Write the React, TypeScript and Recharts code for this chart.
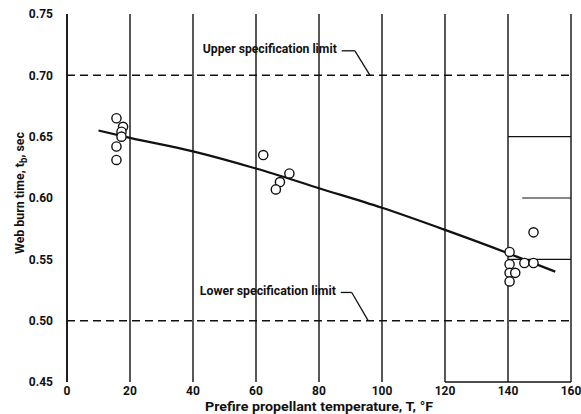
import {
  ComposedChart,
  Line,
  Scatter,
  XAxis,
  YAxis,
  CartesianGrid,
  ReferenceLine,
  ReferenceDot,
  Label,
} from 'recharts'

// measured burn times vs prefire propellant temperature
const pointTemps = [
  15.7, 17.8, 17.3, 17.3, 15.7, 15.7,
  62.3, 70.6, 67.6, 66.3,
  148.1, 140.5, 140.5, 140.5, 142.3, 140.5, 145.2, 148.1,
]
const pointTimes = [
  0.665, 0.658, 0.654, 0.65, 0.642, 0.631,
  0.635, 0.62, 0.613, 0.607,
  0.572, 0.556, 0.546, 0.539, 0.539, 0.532, 0.547, 0.547,
]

// faired curve through the data
const curveTemps = [10, 20, 40, 60, 80, 100, 120, 140, 155]
const curveTimes = [0.655, 0.649, 0.638, 0.624, 0.608, 0.592, 0.574, 0.555, 0.54]

const xTicks = [0, 20, 40, 60, 80, 100, 120, 140, 160]
const yTicks = [0.45, 0.5, 0.55, 0.6, 0.65, 0.7, 0.75]

const upperLimit = 0.7
const lowerLimit = 0.5

const points = pointTemps.map((t, i) => ({ temp: t, time: pointTimes[i] }))
const curve = curveTemps.map((t, i) => ({ temp: t, fit: curveTimes[i] }))

const FONT = "Roboto, 'DejaVu Sans', sans-serif"
const INK = '#111'

function OpenCircle(props: any) {
  const { cx, cy } = props
  if (cx == null || cy == null) return null
  return <circle cx={cx} cy={cy} r={4.6} fill="#fff" stroke={INK} strokeWidth={1.4} />
}

// narrow lettering, squeezed to the set width
const narrow = (width: number) => ({
  textLength: width,
  lengthAdjust: 'spacingAndGlyphs' as const,
  fontFamily: FONT,
  fontWeight: 'bold' as const,
  fontSize: 13,
  fill: INK,
})

function YTitle({ viewBox }: any) {
  const x = 19
  const y = viewBox.y + viewBox.height / 2 - 5
  return (
    <text
      transform={`translate(${x},${y}) rotate(-90)`}
      textAnchor="middle"
      dominantBaseline="central"
      {...narrow(122)}
    >
      Web burn time,  t
      <tspan dy={4} fontSize={10}>b</tspan>
      <tspan dy={-4}>, sec</tspan>
    </text>
  )
}

function XTitle({ viewBox }: any) {
  return (
    <text
      x={viewBox.x + viewBox.width / 2}
      y={viewBox.y + 24}
      textAnchor="middle"
      dominantBaseline="central"
      {...narrow(228)}
    >
      Prefire propellant temperature,  T,  °F
    </text>
  )
}

function limitLabel(text: string, width: number) {
  return (props: any) => {
    const { viewBox } = props
    return (
      <text
        x={viewBox.x - 3 - width}
        y={viewBox.y - 2}
        dominantBaseline="central"
        {...narrow(width)}
      >
        {text}
      </text>
    )
  }
}

const tickStyle = { fontSize: 12, fontFamily: FONT, fontWeight: 'bold', fill: INK }

export default function App() {
  return (
    <div style={{ position: 'absolute', left: 0, top: 0, background: '#fff' }}>
      <ComposedChart width={581} height={414} margin={{ top: 14, right: 10, bottom: 0, left: 0 }}>
        <CartesianGrid horizontal={false} stroke={INK} strokeWidth={1.4} />
        <XAxis
          type="number"
          dataKey="temp"
          domain={[0, 160]}
          ticks={xTicks}
          allowDataOverflow
          height={32}
          axisLine={false}
          tickLine={false}
          tickSize={0}
          tickMargin={4}
          tick={tickStyle}
        >
          <Label content={XTitle} />
        </XAxis>
        <YAxis
          type="number"
          domain={[0.45, 0.75]}
          ticks={yTicks}
          width={67}
          axisLine={{ stroke: INK, strokeWidth: 1.6 }}
          tickLine={false}
          tickSize={0}
          tickMargin={14}
          tickFormatter={(v: number) => v.toFixed(2)}
          tick={tickStyle}
        >
          <Label content={YTitle} />
        </YAxis>

        {/* specification limits */}
        <ReferenceLine y={upperLimit} stroke={INK} strokeWidth={1.5} strokeDasharray="8 5" />
        <ReferenceLine y={lowerLimit} stroke={INK} strokeWidth={1.5} strokeDasharray="8 5" />

        {/* leader lines from the limit labels */}
        <ReferenceLine segment={[{ x: 87.2, y: 0.72 }, { x: 91.4, y: 0.72 }]} stroke={INK} strokeWidth={1.3} />
        <ReferenceLine segment={[{ x: 91.4, y: 0.72 }, { x: 96.2, y: 0.7 }]} stroke={INK} strokeWidth={1.3} />
        <ReferenceLine segment={[{ x: 86.9, y: 0.523 }, { x: 90.4, y: 0.523 }]} stroke={INK} strokeWidth={1.3} />
        <ReferenceLine segment={[{ x: 90.4, y: 0.523 }, { x: 95.6, y: 0.5 }]} stroke={INK} strokeWidth={1.3} />
        <ReferenceDot x={86.6} y={0.72} r={0} stroke="none" label={limitLabel('Upper specification limit', 134)} />
        <ReferenceDot x={86.3} y={0.523} r={0} stroke="none" label={limitLabel('Lower specification limit', 136)} />

        {/* partial rulings at the right-hand side */}
        <ReferenceLine segment={[{ x: 140, y: 0.65 }, { x: 160, y: 0.65 }]} stroke={INK} strokeWidth={1.1} />
        <ReferenceLine segment={[{ x: 144.5, y: 0.6 }, { x: 160, y: 0.6 }]} stroke={INK} strokeWidth={1.1} />
        <ReferenceLine segment={[{ x: 140, y: 0.55 }, { x: 160, y: 0.55 }]} stroke={INK} strokeWidth={1.1} />
        <ReferenceLine segment={[{ x: 120, y: 0.45 }, { x: 160, y: 0.45 }]} stroke={INK} strokeWidth={1.3} />

        <Line
          data={curve}
          dataKey="fit"
          type="monotone"
          stroke={INK}
          strokeWidth={2.2}
          dot={false}
          activeDot={false}
          isAnimationActive={false}
        />
        <Scatter data={points} dataKey="time" shape={OpenCircle} isAnimationActive={false} />
      </ComposedChart>
    </div>
  )
}
